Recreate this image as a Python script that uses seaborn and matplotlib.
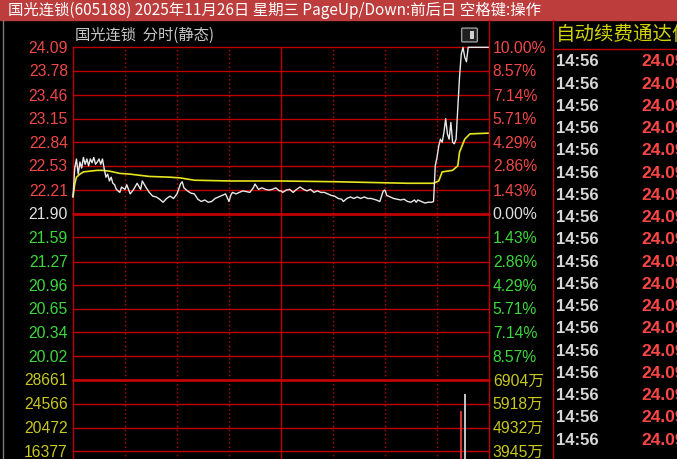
import matplotlib
matplotlib.use("Agg")
import matplotlib.pyplot as plt
import matplotlib.patches as mpatches
from matplotlib.lines import Line2D
import pandas as pd
import seaborn as sns

# ---- data (minute index 0..240, 9:30 -> 15:00) ----
prev_close = 21.90
limit_up = 24.09

price_minutes = [0, 1, 2, 3, 4, 5, 6, 7, 8, 9, 10, 11, 12, 13, 14, 15, 16, 17, 18, 19,
                 20, 21, 22, 23, 24, 25, 27, 28, 30, 31, 33, 35, 37, 39, 40, 42, 44, 46,
                 48, 50, 52, 54, 56, 58, 60, 62, 63, 64, 66, 68, 70, 72, 74, 76, 78, 80,
                 82, 84, 86, 88, 90, 91, 92, 94, 96, 98, 102, 104, 105, 107, 109, 111,
                 113, 115, 117, 119, 120, 121, 123, 125, 127, 129, 131, 133, 135, 137,
                 139, 141, 143, 145, 147, 149, 151, 153, 155, 156, 158, 160, 162, 164,
                 166, 168, 170, 172, 175, 177, 178, 179, 180, 181, 183, 185, 187, 189,
                 191, 193, 195, 197, 198, 199, 201, 203, 205, 207, 208, 209, 210, 211,
                 212, 213, 214, 215, 216, 217, 218, 219, 220, 221, 222, 223, 224, 225,
                 226, 227, 228, 240]
price_values = [22.12, 22.50, 22.62, 22.42, 22.58, 22.50, 22.64, 22.55, 22.62, 22.53,
                22.62, 22.57, 22.64, 22.55, 22.58, 22.62, 22.55, 22.62, 22.49, 22.38,
                22.42, 22.33, 22.38, 22.30, 22.28, 22.22, 22.18, 22.25, 22.22, 22.28,
                22.16, 22.22, 22.30, 22.22, 22.33, 22.25, 22.18, 22.13, 22.12, 22.09,
                22.05, 22.10, 22.13, 22.10, 22.16, 22.29, 22.32, 22.24, 22.20, 22.17,
                22.16, 22.09, 22.06, 22.08, 22.05, 22.06, 22.10, 22.12, 22.14, 22.16,
                22.06, 22.14, 22.18, 22.16, 22.18, 22.20, 22.18, 22.24, 22.29, 22.22,
                22.24, 22.22, 22.21, 22.22, 22.24, 22.20, 22.20, 22.18, 22.21, 22.22,
                22.18, 22.22, 22.25, 22.22, 22.20, 22.22, 22.18, 22.20, 22.18, 22.18,
                22.16, 22.14, 22.13, 22.10, 22.09, 22.06, 22.10, 22.12, 22.10, 22.12,
                22.10, 22.12, 22.10, 22.10, 22.08, 22.06, 22.13, 22.20, 22.21, 22.14,
                22.12, 22.10, 22.09, 22.08, 22.09, 22.06, 22.05, 22.08, 22.05, 22.08,
                22.06, 22.04, 22.05, 22.05, 22.06, 22.53, 22.64, 22.79, 22.88, 22.84,
                22.97, 23.15, 22.95, 22.88, 23.10, 22.84, 22.82, 22.88, 23.30, 23.70,
                24.00, 24.09, 23.96, 23.90, 24.09, 24.09]

avg_minutes = [0, 1, 2, 4, 6, 10, 14, 17, 21, 27, 33, 44, 56, 62, 70, 91, 120, 152,
               193, 208, 211, 213, 216, 219, 222, 223, 226, 229, 240]
avg_values = [22.12, 22.29, 22.38, 22.42, 22.45, 22.46, 22.47, 22.47, 22.46, 22.43,
              22.42, 22.39, 22.38, 22.37, 22.34, 22.33, 22.33, 22.32, 22.30, 22.30,
              22.33, 22.45, 22.46, 22.47, 22.53, 22.71, 22.88, 22.95, 22.96]

vol_minutes = [224, 226]
vol_values = [23280, 26230]
vol_colors = ["#ff3c3c", "#e6e6e6"]

price_labels = ["24.09", "23.78", "23.46", "23.15", "22.84", "22.53", "22.21", "21.90",
                "21.59", "21.27", "20.96", "20.65", "20.34", "20.02"]
pct_labels = ["10.00%", "8.57%", "7.14%", "5.71%", "4.29%", "2.86%", "1.43%", "0.00%",
              "1.43%", "2.86%", "4.29%", "5.71%", "7.14%", "8.57%"]
vol_ticks = [28661, 24566, 20472, 16377, 12283, 8189, 4094]
amount_labels = ["6904万", "5918万", "4932万", "3945万"]

tick_times = ["14:56"] * 18
tick_prices = ["24.09"] * 18

title = "国光连锁(605188) 2025年11月26日 星期三 PageUp/Down:前后日 空格键:操作"
subtitle = "国光连锁  分时(静态)"
side_header = "自动续费通达信"

# ---- colours ----
BG = "#000000"
GRID = "#c00000"
RED_TXT = "#f04848"
GREEN_TXT = "#3cd83c"
YEL_TXT = "#c8c81e"
WHITE_TXT = "#e0e0e0"

sns.set_theme(style="dark", rc={"axes.facecolor": BG, "figure.facecolor": BG})
NUM_FONT = ["Liberation Sans", "Noto Sans CJK SC", "DejaVu Sans"]
CJK_FONT = ["Noto Sans CJK SC", "DejaVu Sans"]
plt.rcParams["font.family"] = NUM_FONT

W, H = 677, 460
fig = plt.figure(figsize=(W / 100, H / 100), dpi=100, facecolor=BG)


def fx(x):
    return x / W


def fy(y):
    return 1 - y / H


def fig_line(x0, y0, x1, y1, color=GRID, lw=1.0, ls="-"):
    fig.add_artist(Line2D([fx(x0), fx(x1)], [fy(y0), fy(y1)], color=color, lw=lw,
                          ls=ls, transform=fig.transFigure))


# title bar
fig.add_artist(mpatches.Rectangle((0, fy(21)), 1, 21 / H, transform=fig.transFigure,
                                  color="#bd3c3c", zorder=0))
fig.text(fx(8), fy(10.5), title, color="white", fontsize=11.1, family=CJK_FONT,
         va="center", ha="left")

# panels
top_px, mid_px, bot_px = 48.3, 381.0, 547.3
ax_p = fig.add_axes([fx(73), fy(mid_px), 416 / W, (mid_px - top_px) / H])
ax_v = fig.add_axes([fx(73), fy(bot_px), 416 / W, (bot_px - mid_px) / H])
for ax in (ax_p, ax_v):
    ax.set_facecolor("none")
    ax.set_xlim(0, 240)
    ax.set_xticks([])
    ax.set_yticks([])
    for s in ax.spines.values():
        s.set_visible(False)

ax_p.set_ylim(prev_close - (limit_up - prev_close), limit_up)
ax_v.set_ylim(0, vol_ticks[0])

# horizontal grid + labels, price panel
for i, lab in enumerate(price_labels):
    val = float(lab)
    lw = 2.0 if lab == "21.90" else 1.0
    ax_p.axhline(val, color=GRID, lw=lw, clip_on=False, zorder=1)
    if val > prev_close:
        c = RED_TXT
    elif val < prev_close:
        c = GREEN_TXT
    else:
        c = WHITE_TXT
    ax_p.text(-3.0, val, lab, color=c, fontsize=11.3, ha="right", va="center")
    ax_p.text(242.2, val, pct_labels[i], color=c, fontsize=11.3, ha="left", va="center")

# volume panel grid + labels
for i, v in enumerate(vol_ticks):
    lw = 2.0 if i == 0 else 1.0
    ax_v.axhline(v, color=GRID, lw=lw, clip_on=False, zorder=1)
for i, lab in enumerate(amount_labels):
    ax_v.text(-3.0, vol_ticks[i], str(vol_ticks[i]), color=YEL_TXT, fontsize=11.3,
              ha="right", va="center")
    ax_v.text(242.2, vol_ticks[i], lab, color=YEL_TXT, fontsize=11.3, ha="left",
              va="center", family=NUM_FONT)

# vertical half-hour lines
for m in [30, 60, 90, 150, 180, 210]:
    for ax in (ax_p, ax_v):
        ax.axvline(m, color=GRID, lw=1.0, ls=(0, (1, 2)), zorder=1)
for ax in (ax_p, ax_v):
    ax.axvline(120, color=GRID, lw=1.0, zorder=1)
    ax.axvline(0, color=GRID, lw=1.0, clip_on=False, zorder=1)

# frame lines outside the plot
fig_line(489, 21, 489, H)
fig_line(553, 21, 553, H)
fig_line(553, 50, W, 50)
fig_line(2.7, 21, 2.7, H, color="#7a7a7a", lw=1.0)

# price and average lines
price_df = pd.DataFrame({"minute": price_minutes, "price": price_values})
avg_df = pd.DataFrame({"minute": avg_minutes, "price": avg_values})
sns.lineplot(data=avg_df, x="minute", y="price", ax=ax_p, color="#e6e61e", lw=1.2,
             zorder=3, clip_on=False)
sns.lineplot(data=price_df, x="minute", y="price", ax=ax_p, color="#e8e8e8", lw=1.0,
             zorder=4, clip_on=False)
ax_p.set_xlabel("")
ax_p.set_ylabel("")

# volume bars
ax_v.vlines(vol_minutes, 0, vol_values, colors=vol_colors, lw=1.2, zorder=3)

# subtitle and small toggle icon
fig.text(fx(75), fy(35), subtitle, color="#c8c8c8", fontsize=11, family=CJK_FONT,
         va="center", ha="left")
fig.add_artist(mpatches.FancyBboxPatch((fx(463), fy(42)), 13 / W, 12 / H,
                                       boxstyle="round,pad=0.002", fc="#202020",
                                       ec="#9a9a9a", lw=1.0, transform=fig.transFigure))
fig.add_artist(mpatches.Rectangle((fx(470), fy(40)), 4 / W, 8 / H, fc="#d0d0d0",
                                  ec="none", transform=fig.transFigure))

# right side tick list (cut off by the window edge, as in the source)
fig.text(fx(556), fy(34), side_header, color="#d2d200", fontsize=14, family=CJK_FONT,
         va="center", ha="left")
for i, (t, p) in enumerate(zip(tick_times, tick_prices)):
    yy = 62 + 22.24 * i
    fig.text(fx(556), fy(yy), t, color="#d8d8d8", fontsize=12, weight="bold",
             va="center", ha="left")
    fig.text(fx(641), fy(yy), p, color="#ff4646", fontsize=12.5, weight="bold",
             va="center", ha="left")

fig.savefig("out.png", dpi=100, facecolor=BG)
